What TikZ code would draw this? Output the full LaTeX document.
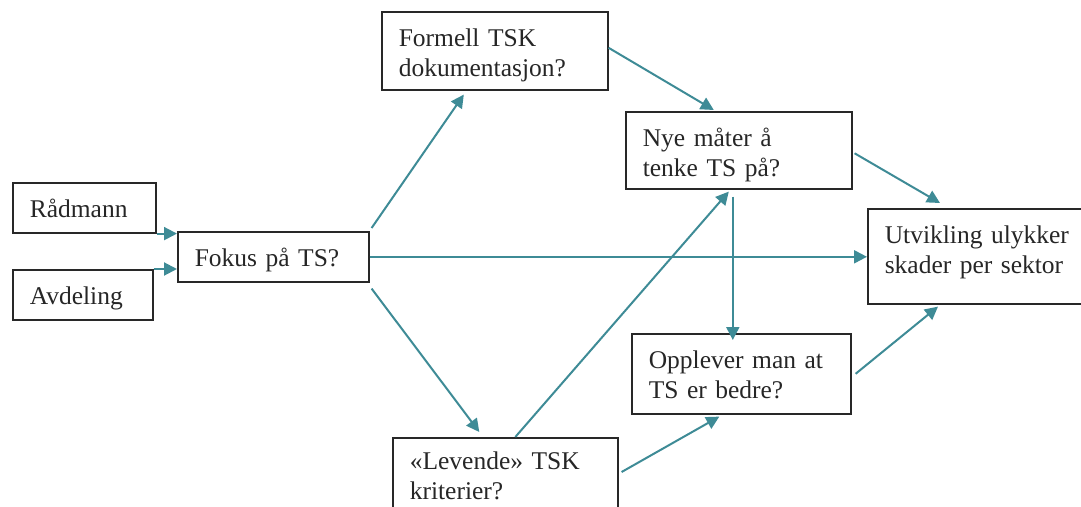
\documentclass[tikz,border=0pt]{standalone}
\usepackage{fontspec}
\setmainfont{Liberation Serif}
\usetikzlibrary{arrows.meta}

\definecolor{linkteal}{RGB}{62,139,150}
\definecolor{boxgray}{RGB}{40,40,40}

\tikzstyle{box} = [draw=boxgray, line width=1.6pt, anchor=north west, align=left,
  inner xsep=17pt, inner ysep=12pt, text height=23pt,
  font=\fontsize{25.5}{30}\selectfont, text=black!85]
\tikzstyle{link} = [linkteal, line width=2pt, -{Triangle[length=13pt,width=13pt]}]

\begin{document}
\begin{tikzpicture}[x=1pt, y=-1pt]
    \useasboundingbox (0,0) rectangle (1081,506);

    % Boxes
    \node[box, text width=109pt, text depth=3pt] (radmann) at (12,182) {Rådmann};
    \node[box, text width=106pt, text depth=3pt] (avdeling) at (12,269) {Avdeling};
    \node[box, text width=157pt, text depth=3pt] (fokus) at (177,231) {Fokus på TS?};
    \node[box, text width=192pt, text depth=31pt] (formell) at (381,11) {Formell TSK\\dokumentasjon?};
    \node[box, text width=192pt, text depth=30pt] (nye) at (625,111) {Nye måter å\\tenke TS på?};
    \node[box, text width=206pt, text depth=48pt] (utvikling) at (867,208) {Utvikling ulykker\\skader per sektor};
    \node[box, text width=185pt, text depth=33pt] (opplever) at (631,333) {Opplever man at\\TS er bedre?};
    \node[box, text width=191pt, text height=20pt, text depth=46pt] (levende) at (392,437) {«Levende» TSK\\kriterier?};

    % Inputs to focus
    \draw[link] (radmann.south east) -- (radmann.south east -| fokus.west);
    \draw[link] (avdeling.north east) -- (avdeling.north east -| fokus.west);

    % From focus
    \draw[link] ([xshift=2pt,yshift=3pt]fokus.north east) -- ([xshift=-31pt,yshift=-4pt]formell.south);
    \draw[link] (fokus.east) -- (fokus.east -| utvikling.west);
    \draw[link] ([xshift=2pt,yshift=-6pt]fokus.south east) -- ([xshift=-26pt,yshift=5pt]levende.north);

    % Middle layer
    \draw[link] ([yshift=3pt]formell.east) -- ([xshift=-25pt,yshift=1pt]nye.north);
    \draw[link] ([xshift=10pt]levende.north) -- ([xshift=-10pt,yshift=-2pt]nye.south);
    \draw[link] ([xshift=-6pt,yshift=-7pt]nye.south) -- ([xshift=-6pt,yshift=-7pt]nye.south |- opplever.north);
    \draw[link] ([xshift=3pt,yshift=-35pt]levende.north east) -- ([xshift=-22pt,yshift=-2pt]opplever.south);

    % Into outcome
    \draw[link] ([xshift=2pt,yshift=-3pt]nye.east) -- ([xshift=73pt,yshift=5pt]utvikling.north west);
    \draw[link] ([xshift=4pt]opplever.east) -- ([xshift=71pt,yshift=-2pt]utvikling.south west);
\end{tikzpicture}
\end{document}
